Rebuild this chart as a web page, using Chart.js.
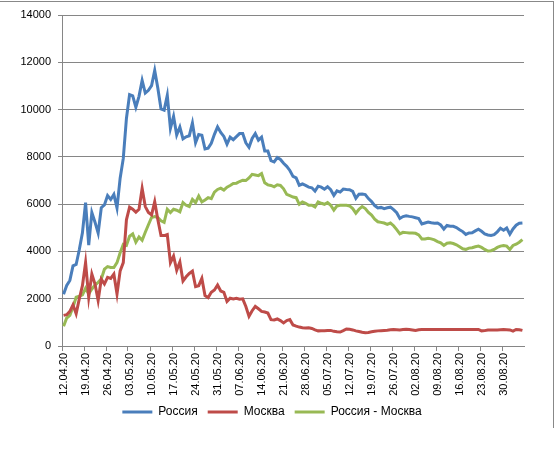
<!DOCTYPE html>
<html>
<head>
<meta charset="utf-8">
<script src="https://cdn.jsdelivr.net/npm/chart.js@4"></script>
<style>
  html, body { margin: 0; padding: 0; background: #fff; }
  #wrap { position: relative; width: 556px; height: 465px; }
  #frame { position: absolute; left: -2px; top: 1px; width: 555px; height: 426px;
           border-top: 1px solid #888; border-right: 1px solid #888; }
</style>
</head>
<body>
<div id="wrap">
  <canvas id="chart" width="556" height="465"></canvas>
  <div id="frame"></div>
</div>
<script>
// daily values, 12.04.20 - 05.09.20
const russia = [
  2186, 2558, 2774, 3388, 3448, 4070, 4785, 6060, 4268, 5642,
  5236, 4774, 5849, 5966, 6361, 6198, 6411, 5841, 7099, 7933,
  9623, 10633, 10581, 10102, 10559, 11231, 10699, 10817, 11012, 11656,
  10899, 10028, 9974, 10598, 9200, 9709, 8926, 9263, 8764, 8849,
  8894, 9434, 8599, 8946, 8915, 8338, 8371, 8572, 8952, 9268,
  9035, 8863, 8536, 8831, 8726, 8855, 8984, 8985, 8595, 8404,
  8779, 8987, 8706, 8835, 8246, 8248, 7843, 7790, 7972, 7889,
  7728, 7600, 7425, 7176, 7113, 6800, 6852, 6791, 6719, 6693,
  6556, 6760, 6718, 6632, 6736, 6611, 6368, 6562, 6509, 6635,
  6615, 6611, 6537, 6248, 6422, 6428, 6406, 6234, 6109, 5940,
  5842, 5862, 5811, 5848, 5871, 5765, 5635, 5395, 5475, 5509,
  5482, 5462, 5427, 5394, 5159, 5204, 5241, 5212, 5189, 5200,
  5118, 4945, 5102, 5065, 5061, 5010, 4920, 4839, 4718, 4780,
  4790, 4870, 4941, 4852, 4744, 4696, 4676, 4711, 4829, 4980,
  4897, 4993, 4729, 4952, 5110, 5195, 5205
];
const moscow = [
  1296, 1324, 1464, 1742, 1366, 1993, 2551, 3527, 2063, 3039,
  2621, 1924, 2830, 2621, 2900, 2858, 3039, 2203, 3178, 3527,
  5339, 5869, 5785, 5660, 5785, 6663, 5896, 5646, 5548, 6106,
  5339, 4670, 4670, 4712, 3527, 3806, 3206, 3555, 2746, 2927,
  3067, 3164, 2509, 2551, 2858, 2133, 2049, 2272, 2370, 2579,
  2328, 2272, 1882, 2021, 1993, 2021, 1979, 1993, 1673, 1254,
  1492, 1673, 1575, 1464, 1436, 1394, 1115, 1101, 1143, 1073,
  976, 1073, 1115, 890, 840, 800, 770, 760, 770, 740,
  680, 640, 650, 650, 660, 660, 620, 600, 590, 650,
  720, 710, 680, 640, 610, 580, 560, 570, 600, 620,
  640, 650, 660, 670, 690, 700, 690, 680, 700, 710,
  700, 680, 660, 690, 700, 700, 700, 700, 700, 700,
  700, 700, 700, 700, 700, 700, 700, 700, 700, 700,
  700, 700, 700, 640, 650, 680, 680, 680, 680, 690,
  700, 690, 680, 630, 700, 690, 660
];
const regions = [
  836, 1185, 1296, 1645, 2063, 2105, 2160, 2440, 2203, 2412,
  2579, 2690, 2830, 3248, 3360, 3318, 3318, 3527, 3945, 4294,
  4252, 4642, 4740, 4391, 4614, 4475, 4809, 5130, 5437, 5478,
  5437, 5297, 5228, 5785, 5646, 5785, 5743, 5674, 6064, 5952,
  5897, 6203, 6064, 6343, 6092, 6175, 6273, 6231, 6510, 6622,
  6677, 6594, 6719, 6789, 6872, 6886, 6956, 7012, 6998, 7109,
  7263, 7235, 7207, 7290, 6900, 6816, 6789, 6733, 6816, 6789,
  6650, 6412, 6357, 6300, 6273, 5994, 6092, 6036, 5952, 5952,
  5880, 6092, 6036, 5994, 6064, 5952, 5743, 5924, 5952, 5952,
  5952, 5924, 5813, 5618, 5785, 5897, 5813, 5646, 5534, 5367,
  5255, 5228, 5200, 5144, 5200, 5088, 4921, 4740, 4809, 4795,
  4781, 4781, 4767, 4698, 4530, 4530, 4558, 4530, 4489, 4419,
  4363, 4252, 4349, 4363, 4335, 4280, 4196, 4112, 4084, 4140,
  4154, 4196, 4224, 4168, 4084, 4015, 4029, 4084, 4168, 4224,
  4252, 4224, 4084, 4252, 4307, 4391, 4503
];
const yTicks = [0, 2000, 4000, 6000, 8000, 10000, 12000, 14000];

// one category per day
const days = [];
for (let d = new Date(2020, 3, 12); days.length < russia.length; d.setDate(d.getDate() + 1)) {
  const dd = String(d.getDate()).padStart(2, '0'), mm = String(d.getMonth() + 1).padStart(2, '0');
  days.push(dd + '.' + mm + '.20');
}

const GRID = '#868686';
const font = { family: 'Liberation Sans', size: 11 };

const line = (label, data, color) => ({
  label, data, borderColor: color, backgroundColor: color,
  borderWidth: 3, pointRadius: 0, tension: 0
});

new Chart(document.getElementById('chart'), {
  type: 'line',
  data: {
    labels: days,
    datasets: [
      line('Россия', russia, '#4A7EBB'),
      line('Москва', moscow, '#BE4B48'),
      line('Россия - Москва', regions, '#98B954')
    ]
  },
  options: {
    responsive: false,
    animation: false,
    layout: { padding: { top: 15, right: 32, bottom: 37, left: 20 } },
    scales: {
      x: {
        offset: true,
        grid: {
          offset: true, drawOnChartArea: false, tickLength: 5,
          color: ctx => ctx.index % 7 === 0 ? GRID : 'rgba(0,0,0,0)'
        },
        border: { color: GRID },
        ticks: {
          autoSkip: false, minRotation: 90, maxRotation: 90, padding: 2,
          color: '#000', font,
          callback: (v, i) => i % 7 === 0 ? days[i] : ''
        },
        afterFit: s => { s.height = 50; }
      },
      y: {
        min: 0, max: 14000,
        afterBuildTicks: s => { s.ticks = yTicks.map(v => ({ value: v })); },
        grid: { color: GRID, tickLength: 4 },
        border: { color: GRID },
        ticks: { color: '#000', font, padding: 7, callback: v => String(v) },
        afterFit: s => { s.width = 42; }
      }
    },
    plugins: {
      tooltip: { enabled: false },
      legend: {
        position: 'bottom',
        labels: {
          color: '#000', font: { family: 'Liberation Sans', size: 12 }, padding: 10,
          usePointStyle: true, pointStyle: 'line', pointStyleWidth: 30
        }
      }
    }
  }
});
</script>
</body>
</html>
